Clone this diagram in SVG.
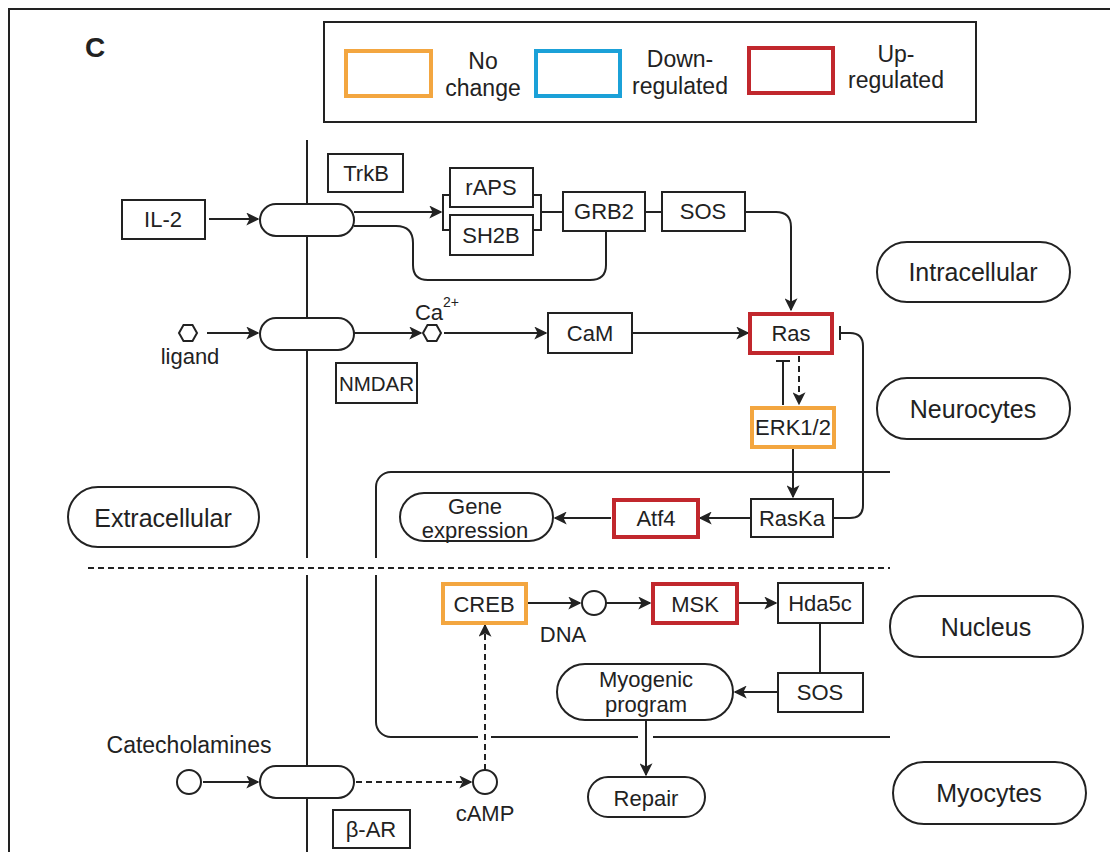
<svg xmlns="http://www.w3.org/2000/svg" width="1110" height="852" viewBox="0 0 1110 852">
<style>
text{font-family:"Liberation Sans",Arial,sans-serif;fill:#222;text-anchor:middle;dominant-baseline:central}
.t{font-size:22px}
.lg{font-size:23px}
.big{font-size:25px}
.box{fill:#fff;stroke:#222;stroke-width:2}
.nc{fill:#fff;stroke:#F3A640;stroke-width:4}
.up{fill:#fff;stroke:#C1272D;stroke-width:4}
.dn{fill:#fff;stroke:#1BA1D8;stroke-width:4}
.ln{fill:none;stroke:#222;stroke-width:2}
.dash{fill:none;stroke:#222;stroke-width:2;stroke-dasharray:6 4}
.ar{marker-end:url(#ah)}
</style>
<defs>
<marker id="ah" viewBox="0 0 10 10" refX="9" refY="5" markerWidth="6.5" markerHeight="6.5" markerUnits="strokeWidth" orient="auto">
<path d="M0,0 L10,5 L0,10 L2.5,5 z" fill="#222"/>
</marker>
</defs>
<rect x="0" y="0" width="1110" height="852" fill="#fff"/>
<path d="M9,852 V9 H1110" class="ln"/>
<text x="95" y="47" style="font-size:28px;font-weight:bold">C</text>

<g id="legend">
<rect x="324" y="22" width="652" height="100" class="box"/>
<rect x="346" y="51" width="85" height="45" class="nc"/>
<text x="483" y="61" class="lg">No</text>
<text x="483" y="88" class="lg">change</text>
<rect x="536" y="51" width="84" height="45" class="dn"/>
<text x="680" y="59" class="lg">Down-</text>
<text x="680" y="86" class="lg">regulated</text>
<rect x="749" y="48" width="84" height="45" class="up"/>
<text x="896" y="54" class="lg">Up-</text>
<text x="896" y="80" class="lg">regulated</text>
</g>

<g id="membrane">
<path d="M307,140 V558 M307,575 V852" class="ln"/>
<path d="M88,568 H890" class="dash"/>
<path d="M890,472 H391 A15,15 0 0 0 376,487 V558 M376,575 V722 A15,15 0 0 0 391,737 H478 M491,737 H638 M653,737 H890" class="ln"/>
</g>

<g id="connectors">
<path d="M209,219 H258" class="ln ar"/>
<path d="M354,212 H441" class="ln ar"/>
<path d="M450,195 H443 V230 H450 M533,195 H541 V230 H533 M541,212 H563" class="ln"/>
<path d="M645,212 H662" class="ln"/>
<path d="M745,212 H776 Q791,212 791,227 V310" class="ln ar"/>
<path d="M354,226 H396 Q413,226 413,243 V265 Q413,280 428,280 H590 Q606,280 606,265 V231" class="ln"/>
<path d="M207,333 H258" class="ln ar"/>
<path d="M354,333 H421" class="ln ar"/>
<path d="M444,333 H546" class="ln ar"/>
<path d="M632,333 H748" class="ln ar"/>
<path d="M783,405 V361 M776,361 H790" class="ln"/>
<path d="M799,356 V404" class="dash ar"/>
<path d="M793,447 V497" class="ln ar"/>
<path d="M834,518 H850 Q863,518 863,505 V346 Q863,333 850,333 H840 M840,326 V340" class="ln"/>
<path d="M751,518 H700" class="ln ar"/>
<path d="M611,518 H555" class="ln ar"/>
<path d="M527,603 H580" class="ln ar"/>
<path d="M606,603 H650" class="ln ar"/>
<path d="M737,603 H776" class="ln ar"/>
<path d="M820,623 V673" class="ln"/>
<path d="M778,692 H735" class="ln ar"/>
<path d="M646,720 V775" class="ln ar"/>
<path d="M203,782 H258" class="ln ar"/>
<path d="M356,782 H471" class="dash ar"/>
<path d="M485,770 V625" class="dash ar"/>
</g>

<g id="n-trkb"><rect x="328" y="154" width="75" height="38" class="box"/><text x="366" y="173" class="t">TrkB</text></g>
<g id="n-il2"><rect x="122" y="200" width="83" height="39" class="box"/><text x="163" y="219" class="t">IL-2</text></g>
<g id="n-rec1"><rect x="260" y="204" width="94" height="32" rx="16" class="box"/></g>
<g id="n-raps"><rect x="450" y="168" width="83" height="39" class="box"/><text x="491" y="187" class="t">rAPS</text></g>
<g id="n-sh2b"><rect x="450" y="215" width="83" height="40" class="box"/><text x="491" y="235" class="t">SH2B</text></g>
<g id="n-grb2"><rect x="563" y="192" width="82" height="39" class="box"/><text x="604" y="211" class="t">GRB2</text></g>
<g id="n-sos1"><rect x="662" y="192" width="83" height="39" class="box"/><text x="703" y="211" class="t">SOS</text></g>

<g id="n-ligand"><polygon points="179,333 183.5,325 192.5,325 197,333 192.5,341 183.5,341" class="box"/><text x="190" y="356" class="t">ligand</text></g>
<g id="n-rec2"><rect x="260" y="318" width="94" height="32" rx="16" class="box"/></g>
<g id="n-ca"><polygon points="423,333 427.5,325 436.5,325 441,333 436.5,341 427.5,341" class="box"/><text x="437" y="312" class="t">Ca<tspan dy="-10" style="font-size:14px">2+</tspan></text></g>
<g id="n-cam"><rect x="548" y="313" width="84" height="40" class="box"/><text x="590" y="333" class="t">CaM</text></g>
<g id="n-ras"><rect x="750" y="314" width="82" height="39" class="up"/><text x="791" y="333" class="t">Ras</text></g>
<g id="n-nmdar"><rect x="336" y="363" width="81" height="40" class="box"/><text x="376.5" y="383" style="font-size:20.5px">NMDAR</text></g>
<g id="n-erk"><rect x="752" y="408" width="82" height="39" class="nc"/><text x="793" y="427" class="t">ERK1/2</text></g>
<g id="n-raska"><rect x="751" y="499" width="82" height="38" class="box"/><text x="792" y="518" class="t">RasKa</text></g>
<g id="n-atf4"><rect x="614" y="500" width="84" height="37" class="up"/><text x="656" y="518" class="t">Atf4</text></g>
<g id="n-gene"><rect x="400" y="493" width="153" height="48" rx="24" class="box"/><text x="475" y="506" class="t">Gene</text><text x="475" y="530" class="t">expression</text></g>

<g id="n-extra"><rect x="68" y="487" width="191" height="60" rx="30" class="box"/><text x="163" y="518" class="big">Extracellular</text></g>
<g id="n-intra"><rect x="877" y="242" width="193" height="60" rx="30" class="box"/><text x="973" y="272" class="big">Intracellular</text></g>
<g id="n-neuro"><rect x="877" y="378" width="193" height="61" rx="30" class="box"/><text x="973" y="409" class="big">Neurocytes</text></g>
<g id="n-nucleus"><rect x="890" y="596" width="193" height="61" rx="30" class="box"/><text x="986" y="627" class="big">Nucleus</text></g>
<g id="n-myo"><rect x="893" y="762" width="193" height="62" rx="31" class="box"/><text x="989" y="793" class="big">Myocytes</text></g>

<g id="n-creb"><rect x="443" y="584" width="83" height="39" class="nc"/><text x="484" y="604" class="t">CREB</text></g>
<g id="n-dna"><circle cx="594" cy="603" r="12" class="box"/><text x="563" y="634" class="t">DNA</text></g>
<g id="n-msk"><rect x="653" y="584" width="84" height="39" class="up"/><text x="695" y="604" class="t">MSK</text></g>
<g id="n-hda"><rect x="778" y="583" width="85" height="40" class="box"/><text x="820" y="603" class="t">Hda5c</text></g>
<g id="n-sos2"><rect x="778" y="673" width="85" height="39" class="box"/><text x="820" y="692" class="t">SOS</text></g>
<g id="n-myog"><rect x="557" y="664" width="176" height="56" rx="28" class="box"/><text x="646" y="679" class="t">Myogenic</text><text x="646" y="704" class="t">program</text></g>
<g id="n-repair"><rect x="588" y="777" width="117" height="40" rx="20" class="box"/><text x="646" y="798" class="t">Repair</text></g>

<g id="n-cat"><text x="189" y="745" style="font-size:23px">Catecholamines</text><circle cx="189" cy="782" r="12" class="box"/></g>
<g id="n-rec3"><rect x="260" y="766" width="94" height="32" rx="16" class="box"/></g>
<g id="n-camp"><circle cx="485" cy="782" r="12" class="box"/><text x="485" y="813" class="t">cAMP</text></g>
<g id="n-bar"><rect x="333" y="810" width="77" height="38" class="box"/><text x="371" y="829" class="t">β-AR</text></g>
</svg>
